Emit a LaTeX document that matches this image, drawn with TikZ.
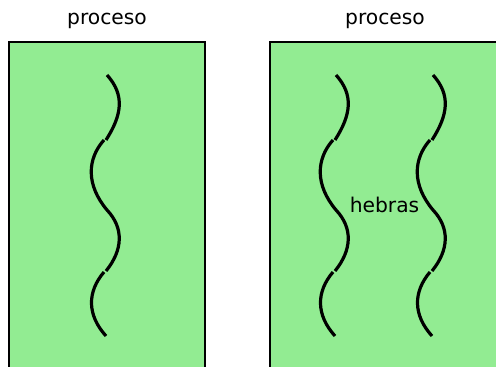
\documentclass[tikz,border=0pt]{standalone}
\usepackage{fontspec}
\setmainfont{DejaVu Sans}
\definecolor{procgreen}{RGB}{146,236,146}
\begin{document}
\begin{tikzpicture}[x=0.75pt,y=-0.75pt,
  procbox/.style={fill=procgreen,draw=black,line width=0.8pt},
  label/.style={font=\fontsize{15.2}{18}\selectfont,inner sep=0pt,anchor=base},
  strandline/.style={line width=2.4pt,line cap=butt},
  strand/.pic={
    \draw[strandline] (0,0) .. controls (18,20) and (15,40) .. (-1,65);
    \draw[strandline] (-3,65) .. controls (-20,84) and (-21,110) .. (0,135)
                      .. controls (17,153) and (16,175) .. (-1,196);
    \draw[strandline] (-3,197) .. controls (-20,217) and (-20,240) .. (-1,261);
  }]
  \useasboundingbox (0,0) rectangle (496,367);
  \clip (0,0) rectangle (496,367);

  % two processes, the right one with two threads
  \draw[procbox] (9,42) rectangle (205,385);
  \draw[procbox] (270,42) rectangle (510,385);

  \node[label] (procA) at (107,24.5) {proceso};
  \node[label] (procB) at (385,24.5) {proceso};

  \pic at (107,75) {strand};
  \pic at (336,75) {strand};
  \pic at (433,75) {strand};

  \node[label] (threads) at (384.5,213) {hebras};
\end{tikzpicture}
\end{document}
